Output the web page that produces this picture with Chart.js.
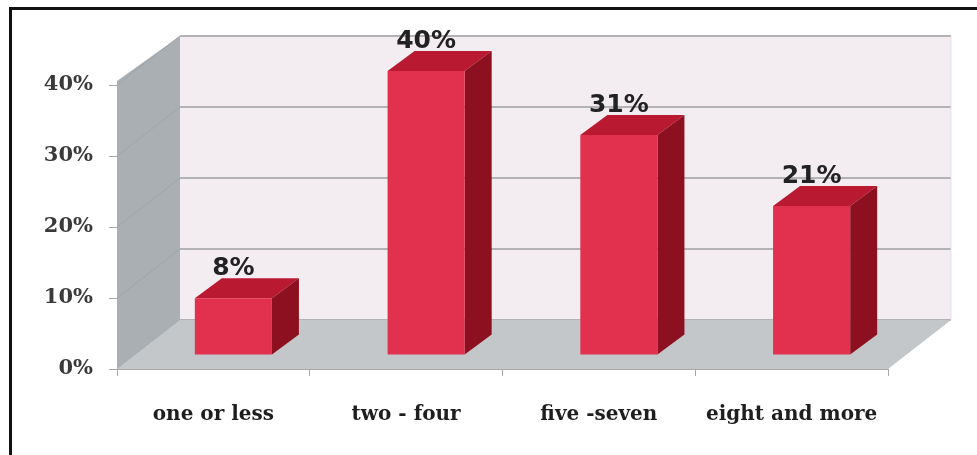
<!DOCTYPE html>
<html>
<head>
<meta charset="utf-8">
<script src="https://cdn.jsdelivr.net/npm/chart.js@4/dist/chart.umd.min.js"></script>
<style>
    body { margin: 0; background: #ffffff; overflow: hidden; }
    #wrap { position: relative; width: 977px; height: 455px; }
    #marco {
        position: absolute; left: 9px; top: 7px; width: 1000px; height: 500px;
        border-left: 3px solid #111; border-top: 3px solid #111; pointer-events: none;
    }
</style>
</head>
<body>
<div id="wrap">
    <canvas id="barChart" width="977" height="455"></canvas>
    <div id="marco"></div>
</div>
<script>
// Categorías del eje X
const categories = ["one or less", "two - four", "five -seven", "eight and more"];
// Porcentajes de cada categoría
const percentages = [8, 40, 31, 21];
// Valores de las marcas del eje Y
const yTicks = [0, 10, 20, 30, 40];

document.addEventListener("DOMContentLoaded", () => {
    // Contexto del canvas
    const ctx = document.getElementById("barChart").getContext("2d");

    // Profundidad de la "caja" 3D (pared del fondo) y de las barras
    const WALL_DX = 63, WALL_DY = -49;
    const BAR_SHIFT_X = 20, BAR_SHIFT_Y = -14;
    const BAR_DX = 27, BAR_DY = -20;

    // Plugin que dibuja paredes, suelo y caras laterales de las barras
    const box3d = {
        id: "box3d",
        beforeDraw(chart) {
            const c = chart.ctx;
            const a = chart.chartArea;
            const y = chart.scales.y;
            const top = y.getPixelForValue(40);
            const bottom = y.getPixelForValue(0);

            c.save();
            // Pared del fondo
            c.fillStyle = "#f3edf2";
            c.fillRect(a.left + WALL_DX, top + WALL_DY, a.right - a.left, bottom - top);

            // Líneas de la cuadrícula en la pared del fondo
            c.strokeStyle = "#b3b3b5";
            c.lineWidth = 2;
            yTicks.forEach(v => {
                const py = y.getPixelForValue(v) + WALL_DY;
                c.beginPath();
                c.moveTo(a.left + WALL_DX, py);
                c.lineTo(a.right + WALL_DX, py);
                c.stroke();
            });
            // Borde derecho de la pared
            c.strokeStyle = "#e6e1e6";
            c.lineWidth = 1;
            c.beginPath();
            c.moveTo(a.right + WALL_DX, top + WALL_DY);
            c.lineTo(a.right + WALL_DX, bottom + WALL_DY);
            c.stroke();

            // Pared lateral izquierda
            c.fillStyle = "#aaafb3";
            c.beginPath();
            c.moveTo(a.left, bottom);
            c.lineTo(a.left, top - 4);
            c.lineTo(a.left + WALL_DX, top + WALL_DY);
            c.lineTo(a.left + WALL_DX, bottom + WALL_DY);
            c.closePath();
            c.fill();

            // Cuadrícula diagonal en la pared lateral
            c.strokeStyle = "#a0a5a9";
            c.lineWidth = 1;
            yTicks.forEach(v => {
                const py = y.getPixelForValue(v);
                c.beginPath();
                c.moveTo(a.left, py);
                c.lineTo(a.left + WALL_DX, py + WALL_DY);
                c.stroke();
            });

            // Suelo
            c.fillStyle = "#c3c7ca";
            c.beginPath();
            c.moveTo(a.left, bottom);
            c.lineTo(a.right, bottom);
            c.lineTo(a.right + WALL_DX, bottom + WALL_DY);
            c.lineTo(a.left + WALL_DX, bottom + WALL_DY);
            c.closePath();
            c.fill();
            c.restore();
        },
        beforeDatasetsDraw(chart) {
            const c = chart.ctx;
            // Desplazamos las barras hacia dentro de la caja
            c.save();
            c.translate(BAR_SHIFT_X, BAR_SHIFT_Y);
            chart.getDatasetMeta(0).data.forEach(bar => {
                const l = bar.x - bar.width / 2;
                const r = bar.x + bar.width / 2;
                // Cara superior
                c.fillStyle = "#b91a31";
                c.beginPath();
                c.moveTo(l, bar.y);
                c.lineTo(r, bar.y);
                c.lineTo(r + BAR_DX, bar.y + BAR_DY);
                c.lineTo(l + BAR_DX, bar.y + BAR_DY);
                c.closePath();
                c.fill();
                // Cara lateral
                c.fillStyle = "#8d1020";
                c.beginPath();
                c.moveTo(r, bar.y);
                c.lineTo(r, bar.base);
                c.lineTo(r + BAR_DX, bar.base + BAR_DY);
                c.lineTo(r + BAR_DX, bar.y + BAR_DY);
                c.closePath();
                c.fill();
            });
        },
        afterDatasetsDraw(chart) {
            const c = chart.ctx;
            c.restore();
            // Etiquetas con el porcentaje encima de cada barra
            c.save();
            c.font = "bold 25px 'DejaVu Sans'";
            c.fillStyle = "#222222";
            c.textAlign = "center";
            c.textBaseline = "alphabetic";
            chart.getDatasetMeta(0).data.forEach((bar, i) => {
                const px = bar.x + BAR_SHIFT_X;
                const py = bar.y + BAR_SHIFT_Y + BAR_DY - 3;
                c.fillText(percentages[i] + "%", px, py);
            });
            c.restore();
        }
    };

    new Chart(ctx, {
        type: "bar",
        data: {
            labels: categories,
            datasets: [{
                data: percentages,
                backgroundColor: "#e2304f",
                borderWidth: 0,
                barPercentage: 0.5,
                categoryPercentage: 0.8,
                clip: false
            }]
        },
        options: {
            responsive: false,
            animation: false,
            layout: { padding: { left: 0, top: 85, right: 89, bottom: 0 } },
            plugins: {
                legend: { display: false },
                tooltip: { enabled: false }
            },
            scales: {
                x: {
                    afterFit: s => { s.height = 86; },
                    grid: {
                        offset: true,
                        drawOnChartArea: false,
                        tickLength: 7,
                        color: "#a8a8a8"
                    },
                    border: { display: true, color: "#a8a8a8", width: 1 },
                    ticks: {
                        padding: 27,
                        color: "#1e1e1e",
                        font: { family: "'DejaVu Serif'", size: 20, weight: "bold" }
                    }
                },
                y: {
                    min: 0,
                    max: 40,
                    afterFit: s => { s.width = 117; },
                    afterBuildTicks: s => { s.ticks = yTicks.map(v => ({ value: v })); },
                    grid: {
                        drawOnChartArea: false,
                        tickLength: 8,
                        color: "#a8a8a8"
                    },
                    border: { display: false },
                    ticks: {
                        padding: 16,
                        color: "#3a3a3a",
                        font: { family: "'DejaVu Serif'", size: 21, weight: "bold" },
                        callback: v => v + "%"
                    }
                }
            }
        },
        plugins: [box3d]
    });
});
</script>
</body>
</html>
